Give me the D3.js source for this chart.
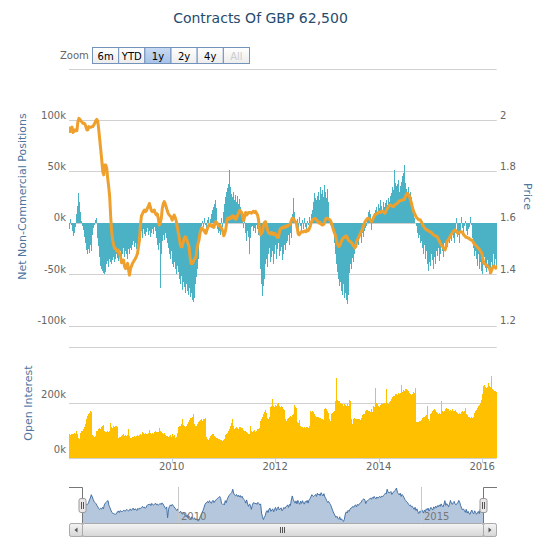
<!DOCTYPE html>
<html><head><meta charset="utf-8">
<script src="https://cdn.jsdelivr.net/npm/d3@7"></script>
<style>body{margin:0;background:#fff}svg{display:block;font-family:"DejaVu Sans",Verdana,sans-serif}</style>
</head><body><svg id="c" width="550" height="550"></svg>
<script>
const chartTitle = "Contracts Of GBP 62,500";
const startDate = "2008-01-08";
const netPositions = [
-3,-6,4,-2, -8,-13,-10,-4, 8,16,29,20,10, 2,-3,-7, -14,-20,-27,-30,-26,-29,-22,-28, -12,-5,-2,3,5,
-15,-23,-33,-42,-45,-47,-49,-50, -48,-40,-37,-43, -35,-38,-40,-36,-33,-38,-35,-30,
-34,-37,-32,-28,-35,-30,-25,-33,-28,-30, -35,-26,-30,-25,-27,-22,-18,-24,-20,-26,
-22,-14,-10,-12,-8,-15,-6,-11,-13,-9,-5,-12,-8,-14,-10,-6,-11,-4, -8,-15,-22,-27,-20,-64,-30,
-18,-12,-17,-10,-15, -20,-25,-30,-35,-28,-40,-43,-38,-45,-50,-42,
-48,-55,-60,-52,-65,-58,-63,-68,-60,-66,-70,-64,-72,-68,-75,-77,-73, -60,-53,-45,-35,-25,
-12,-5,-3,2,-4,5,-2,-6,3,6,-3,4,8, 12,15,18,22,14,-6,-10, -8,-12,5,-4,10,18,25, 30,34,38,51,35,
28,25,30,22,27,20,26,18,23,15,10, 5,-5,8,-10,-18,-8,-14,-30,-15,-4, -3,-8,-5,-10,-2,-6,-12,-8,
-45,-60,-71,-62,-55, -40,-35,-43,-30,-25,-38,-33,-28,-40,-30,-22,-35,-26,-20,-32,-28,-24,-36,-30,-22,-27,-20,
-18,-12,-22,-10,-15,8, 24,10,2,-5, 4,-8,6,-3,-10,3,-6,5,-4,-9,2,-2,6,-5,8,12, 20,29,24,22,
26,30,22,35,28,32,25,37,30,24,33,20,14, 5,-2,2,-5,-10,
-20,-30,-40,-48,-55,-62,-58,-66,-70,-60,-73,-68,-75,-79,-70, -49,-40,-45,-34,-38,-30,-25,
-24,-18,-22,-15,-12,-20,-10,-14,-8,-5,-3, 6,10,12,8,-7,3, 5,9,12,15,
10,18,14,22,16,12,20,15,19,22,17,24,20, 26,29,35,32,51,39,36, 38,42,30,36,40,45,48,56,
39,33,28,35,22,30,25,18, 10,5,0,-3, -10,-15,-12,-20,-18,-25,-30,-22,-35,-28,
-40,-47,-38,-42,-30,-36,-45,-33,-40,-28, -32,-25,-37,-30,-22,-28,-33,-20,-26,-18,-24,-15,-20,
-12,-18,-8,-15,-20,-10,5,-14,-7,-12,-20,-9,6, -5,-10,-3,2,-8,-12,-6,-4,6,-2, -15,-25,-32,-28,
-35,-42,-30,-45,-38,-47,-50,-40,-33,-44,-48,-36,-42,-50,-45,-38,-47,-30,-42,-35,-44];
const price = [
1.968,1.955,1.968,1.972,1.951,1.955,1.961,1.958,1.958,1.994,
2.006,2.002,1.996,1.992,1.987,1.987,1.984,1.974,1.961,1.961,
1.974,1.971,1.971,1.974,1.974,1.980,1.987,1.997,2.002,1.994,
1.961,1.922,1.883,1.844,1.799,1.786,1.825,1.825,1.812,1.773,
1.740,1.701,1.623,1.565,1.532,1.513,1.500,1.500,1.491,1.487,
1.493,1.480,1.467,1.444,1.448,1.455,1.429,1.422,1.426,1.442,
1.416,1.396,1.422,1.431,1.442,1.448,1.455,1.461,1.470,1.480,
1.506,1.532,1.591,1.626,1.634,1.643,1.649,1.643,1.647,1.656,
1.665,1.675,1.660,1.647,1.643,1.645,1.649,1.636,1.630,1.634,
1.617,1.591,1.600,1.617,1.656,1.673,1.682,1.673,1.660,1.647,
1.636,1.630,1.626,1.621,1.610,1.621,1.630,1.621,1.608,1.587,
1.565,1.545,1.519,1.506,1.506,1.522,1.539,1.545,1.543,1.530,
1.519,1.506,1.467,1.441,1.441,1.446,1.455,1.461,1.467,1.500,
1.519,1.532,1.558,1.574,1.580,1.572,1.572,1.562,1.559,1.572,
1.582,1.591,1.595,1.588,1.585,1.590,1.582,1.595,1.604,1.600,
1.591,1.588,1.590,1.582,1.577,1.565,1.549,1.559,1.575,1.604,
1.617,1.613,1.621,1.617,1.624,1.627,1.617,1.624,1.613,1.617,
1.630,1.640,1.648,1.644,1.640,1.624,1.608,1.624,1.640,1.630,
1.634,1.640,1.640,1.640,1.637,1.642,1.644,1.640,1.644,1.637,
1.630,1.611,1.572,1.553,1.559,1.565,1.588,1.601,1.604,1.591,
1.572,1.562,1.559,1.556,1.562,1.559,1.553,1.559,1.556,1.549,
1.543,1.543,1.562,1.577,1.578,1.582,1.580,1.585,1.582,1.588,
1.585,1.590,1.591,1.595,1.608,1.617,1.617,1.611,1.604,1.601,
1.578,1.556,1.553,1.559,1.565,1.565,1.564,1.566,1.568,1.565,
1.572,1.569,1.575,1.585,1.601,1.608,1.613,1.616,1.617,1.613,
1.608,1.604,1.598,1.601,1.595,1.591,1.592,1.595,1.608,1.617,
1.617,1.616,1.613,1.611,1.604,1.591,1.578,1.565,1.556,1.543,
1.522,1.513,1.507,1.512,1.522,1.533,1.538,1.543,1.543,1.549,
1.546,1.536,1.530,1.527,1.526,1.520,1.515,1.509,1.502,1.507,
1.527,1.536,1.543,1.553,1.562,1.569,1.578,1.590,1.601,1.608,
1.613,1.617,1.617,1.613,1.608,1.604,1.611,1.621,1.629,1.632,
1.634,1.637,1.640,1.642,1.640,1.644,1.645,1.642,1.637,1.640,
1.650,1.656,1.663,1.668,1.669,1.667,1.663,1.663,1.668,1.671,
1.673,1.676,1.681,1.685,1.686,1.686,1.689,1.689,1.691,1.702,
1.709,1.715,1.711,1.704,1.691,1.678,1.660,1.647,1.637,1.629,
1.621,1.617,1.613,1.611,1.611,1.604,1.595,1.588,1.582,1.577,
1.572,1.572,1.569,1.566,1.565,1.562,1.559,1.553,1.551,1.549,
1.547,1.546,1.538,1.530,1.522,1.515,1.509,1.504,1.499,1.494,
1.507,1.527,1.533,1.538,1.546,1.553,1.559,1.565,1.569,1.572,
1.568,1.562,1.559,1.562,1.564,1.565,1.564,1.559,1.551,1.549,
1.543,1.543,1.540,1.540,1.535,1.533,1.533,1.527,1.520,1.515,
1.512,1.507,1.502,1.499,1.494,1.488,1.481,1.462,1.442,1.440,
1.437,1.436,1.429,1.427,1.419,1.405,1.416,1.427,1.432,1.427,
1.423,1.429];
const openInterest = [
82,86,85,87,86,88,90,87,100,88, 72,70,90,97,100,106,112,125,140,152,
158,162,172,168,85,82,78,80,100,98, 104,108,106,112,118,120,100,96,95,98,
94,97,126,112,110,117,113,115,117,112, 72,76,78,80,84,86,82,84,80,85,
106,82,72,74,76,78,80,78,82,84, 81,85,87,84,96,90,88,92,89,86,
90,102,92,88,90,86,95,97,94,96, 94,108,100,96,92,88,90,84,80,82,
76,80,84,78,86,82,84,72,78,90, 112,115,118,125,140,120,116,114,118,122,
132,138,146,145,148,160,125,116,118,122, 125,130,136,138,140,136,142,140,144,78,
70,66,72,80,84,86,88,82,76,72, 74,70,68,65,66,64,66,70,84,88,
92,98,104,118,126,140,118,104,108,112, 110,106,112,114,108,110,102,100,98,94,
90,88,86,116,100,96,98,102,96,100, 104,105,108,136,142,150,160,168,175,165,
145,142,148,186,190,212,190,186,192,188, 194,200,190,186,188,184,176,174,140,136,
140,146,150,154,150,156,160,192,186,180, 132,128,138,116,112,114,110,112,108,114,
112,110,116,170,166,172,168,160,152,150, 148,150,146,144,140,142,138,178,182,178,
170,165,162,140,135,160,165,168,170,205, 290,210,208,206,200,196,194,188,195,192,
190,194,188,211,205,140,122,142,144,140, 143,141,142,140,138,145,155,158,160,172,
175,174,172,170,168,176,168,190,186,253, 200,195,190,185,192,198,196,200,198,194,
250,200,196,202,208,212,222,226,224,230, 232,228,234,230,236,265,240,245,243,248,
250,246,244,234,230,228,232,238,236,253, 132,132,130,134,136,138,144,148,150,152,
156,187,140,136,158,164,170,174,178,175, 168,162,158,162,160,205,170,168,172,176,
180,178,176,172,174,170,176,172,170,174, 168,164,160,158,164,160,166,170,168,172,
180,160,155,150,148,145,148,146,150,164, 170,175,180,188,192,200,210,230,260,265,
258,253,258,270,262,258,296,250,247,244, 242,240];
const xTickYears = [2010, 2012, 2014, 2016];
const navTickYears = [2010, 2015];
const netTicks = [-100, -50, 0, 50, 100, 150];
const priceTicks = [1.2, 1.4, 1.6, 1.8, 2.0, 2.2];
const oiTicks = [0, 200, 400];
const zoomButtons = ["6m", "YTD", "1y", "2y", "4y", "All"];
const selectedButton = "1y";
const disabledButton = "All";

const svg = d3.select("#c");
const t0 = d3.utcParse("%Y-%m-%d")(startDate);
const n = netPositions.length;
const dates = d3.range(n).map(i => d3.utcDay.offset(t0, 7 * i));
const plotL = 69, plotR = 496.7;
const x = d3.scaleUtc().domain([dates[0], dates[n - 1]]).range([plotL, plotR]);
const yNet = d3.scaleLinear().domain([-100, 150]).range([325.5, 68.5]);
const yPrice = d3.scaleLinear().domain([1.2, 2.2]).range([325.5, 68.5]);
const yOI = d3.scaleLinear().domain([0, 400]).range([458.3, 347.3]);
const xN = d3.scaleUtc().domain([dates[0], dates[n - 1]]).range([82, 483]);
const yN = d3.scaleLinear().domain([-85, 60]).range([523, 487]);

const defs = svg.append("defs");
defs.append("clipPath").attr("id", "clipMain").append("rect")
  .attr("x", plotL).attr("y", 60).attr("width", plotR - plotL + 0.5).attr("height", 420);
function grad(id, c1, c2) {
  const g = defs.append("linearGradient").attr("id", id).attr("x1", 0).attr("y1", 0).attr("x2", 0).attr("y2", 1);
  g.append("stop").attr("offset", 0).attr("stop-color", c1);
  g.append("stop").attr("offset", 1).attr("stop-color", c2);
}
grad("gBtn", "#ffffff", "#ececec");
grad("gSel", "#c9dbf3", "#a6c1e8");
grad("gScroll", "#f4f4f4", "#d6d6d6");

// Title
svg.append("text").attr("x", 260.5).attr("y", 23).attr("text-anchor", "middle")
  .attr("font-size", 14).attr("fill", "#274b6d").text(chartTitle);

// Range selector
svg.append("text").attr("x", 60).attr("y", 59).attr("font-size", 10).attr("fill", "#666").text("Zoom");
const bw = 26.17;
zoomButtons.forEach((b, i) => {
  const bx = 92.5 + i * bw;
  svg.append("rect").attr("x", bx).attr("y", 47.5).attr("width", bw).attr("height", 16)
    .attr("fill", b === selectedButton ? "url(#gSel)" : "url(#gBtn)")
    .attr("stroke", "#7393bb").attr("stroke-width", 1);
  svg.append("text").attr("x", bx + bw / 2).attr("y", 59.5).attr("text-anchor", "middle")
    .attr("font-size", 10).attr("fill", b === disabledButton ? "#cccccc" : "#000").text(b);
});

// Gridlines
const grid = svg.append("g").attr("stroke", "#d0d0d0").attr("stroke-width", 1);
netTicks.forEach(t => {
  const y = Math.round(yNet(t)) + 0.5;
  grid.append("line").attr("x1", plotL).attr("x2", plotR).attr("y1", y).attr("y2", y);
});
oiTicks.forEach(t => {
  const y = Math.round(yOI(t)) + 0.5;
  grid.append("line").attr("x1", plotL).attr("x2", plotR).attr("y1", y).attr("y2", y);
});

// Axis labels
const lab = svg.append("g").attr("font-size", 10).attr("fill", "#666");
netTicks.filter(t => t !== 150).forEach(t => {
  lab.append("text").attr("x", 66).attr("y", yNet(t) - 1.3).attr("text-anchor", "end").text(t + "k");
});
priceTicks.filter(t => t !== 2.2).forEach(t => {
  lab.append("text").attr("x", 500).attr("y", yPrice(t) - 1.3).text(String(+t.toFixed(1)));
});
oiTicks.filter(t => t !== 400).forEach(t => {
  lab.append("text").attr("x", 66).attr("y", yOI(t) - 5).attr("text-anchor", "end").text(t + "k");
});
xTickYears.forEach(yr => {
  const xx = x(Date.UTC(yr, 0, 1));
  lab.append("text").attr("x", xx).attr("y", 470).attr("text-anchor", "middle").text(yr);
  svg.append("line").attr("x1", Math.round(xx) + 0.5).attr("x2", Math.round(xx) + 0.5)
    .attr("y1", 458.5).attr("y2", 463).attr("stroke", "#c0d0e0");
});

// Axis titles
const tt = svg.append("g").attr("font-size", 11).attr("fill", "#4d759e");
tt.append("text").attr("transform", "translate(22.5,196.5) rotate(-90)").attr("text-anchor", "middle")
  .attr("dominant-baseline", "central").text("Net Non-Commercial Positions");
tt.append("text").attr("transform", "translate(527.5,196.5) rotate(90)").attr("text-anchor", "middle")
  .attr("dominant-baseline", "central").text("Price");
tt.append("text").attr("transform", "translate(28,403) rotate(-90)").attr("text-anchor", "middle")
  .attr("dominant-baseline", "central").text("Open Interest");

// Bars (one device pixel wide, snapped to the pixel grid)
const px = i => Math.round(x(dates[i]) - 0.5);
const plot = svg.append("g").attr("clip-path", "url(#clipMain)");
plot.append("g").attr("fill", "#4bb2c6").attr("shape-rendering", "crispEdges")
  .selectAll("rect").data(netPositions).join("rect")
  .attr("x", (d, i) => px(i)).attr("width", 1)
  .attr("y", d => Math.min(yNet(d), yNet(0))).attr("height", d => Math.abs(yNet(d) - yNet(0)));
plot.append("g").attr("fill", "#ffc000").attr("shape-rendering", "crispEdges")
  .selectAll("rect").data(openInterest).join("rect")
  .attr("x", (d, i) => px(i)).attr("width", 1)
  .attr("y", d => yOI(d)).attr("height", d => yOI(0) - yOI(d));
plot.append("path").datum(price)
  .attr("d", d3.line().x((d, i) => x(dates[i])).y(d => yPrice(d)))
  .attr("fill", "none").attr("stroke", "#efa02c").attr("stroke-width", 3)
  .attr("stroke-linejoin", "round").attr("stroke-linecap", "round");

// Navigator
svg.append("path").datum(netPositions)
  .attr("d", d3.area().x((d, i) => xN(dates[i])).y0(523).y1(d => yN(d)))
  .attr("fill", "rgba(69,114,167,0.4)");
svg.append("path").datum(netPositions)
  .attr("d", d3.line().x((d, i) => xN(dates[i])).y(d => yN(d)))
  .attr("fill", "none").attr("stroke", "#4572a7").attr("stroke-width", 1);
navTickYears.forEach(yr => {
  const xx = Math.round(xN(Date.UTC(yr, 0, 1))) + 0.5;
  svg.append("line").attr("x1", xx).attr("x2", xx).attr("y1", 487).attr("y2", 523)
    .attr("stroke", "#c8c8c8");
  svg.append("text").attr("x", xx + 2.5).attr("y", 520).attr("font-size", 10).attr("fill", "#777").text(yr);
});
svg.append("path").attr("d", "M69,487.5H82.5V523.5H483.5V487.5H497")
  .attr("fill", "none").attr("stroke", "#777").attr("stroke-width", 1);
[82.5, 483.5].forEach(hx => {
  svg.append("rect").attr("x", hx - 3.5).attr("y", 498.5).attr("width", 7).attr("height", 14).attr("rx", 2)
    .attr("fill", "#ebe7e8").attr("stroke", "#999");
  [-1, 1].forEach(o => svg.append("line").attr("x1", hx + o).attr("x2", hx + o)
    .attr("y1", 502).attr("y2", 509).attr("stroke", "#555"));
});

// Scrollbar
svg.append("rect").attr("x", 69.5).attr("y", 523.5).attr("width", 427).attr("height", 13).attr("rx", 2)
  .attr("fill", "#eeeeee").attr("stroke", "#bbb");
svg.append("rect").attr("x", 82.5).attr("y", 523.5).attr("width", 401).attr("height", 13).attr("rx", 2)
  .attr("fill", "url(#gScroll)").attr("stroke", "#aaa");
[[69.5, -1], [483.5, 1]].forEach(([bx, dir]) => {
  svg.append("rect").attr("x", bx).attr("y", 523.5).attr("width", 13).attr("height", 13).attr("rx", 2)
    .attr("fill", "url(#gScroll)").attr("stroke", "#aaa");
  const cx = bx + 6.5, cy = 530;
  svg.append("path").attr("d", dir < 0 ? `M${cx + 1.5},${cy - 2.5}L${cx - 1.5},${cy}L${cx + 1.5},${cy + 2.5}Z`
    : `M${cx - 1.5},${cy - 2.5}L${cx + 1.5},${cy}L${cx - 1.5},${cy + 2.5}Z`).attr("fill", "#555");
});
[-2, 0, 2].forEach(o => svg.append("line").attr("x1", 282.5 + o).attr("x2", 282.5 + o)
  .attr("y1", 527).attr("y2", 533).attr("stroke", "#555"));
</script></body></html>
